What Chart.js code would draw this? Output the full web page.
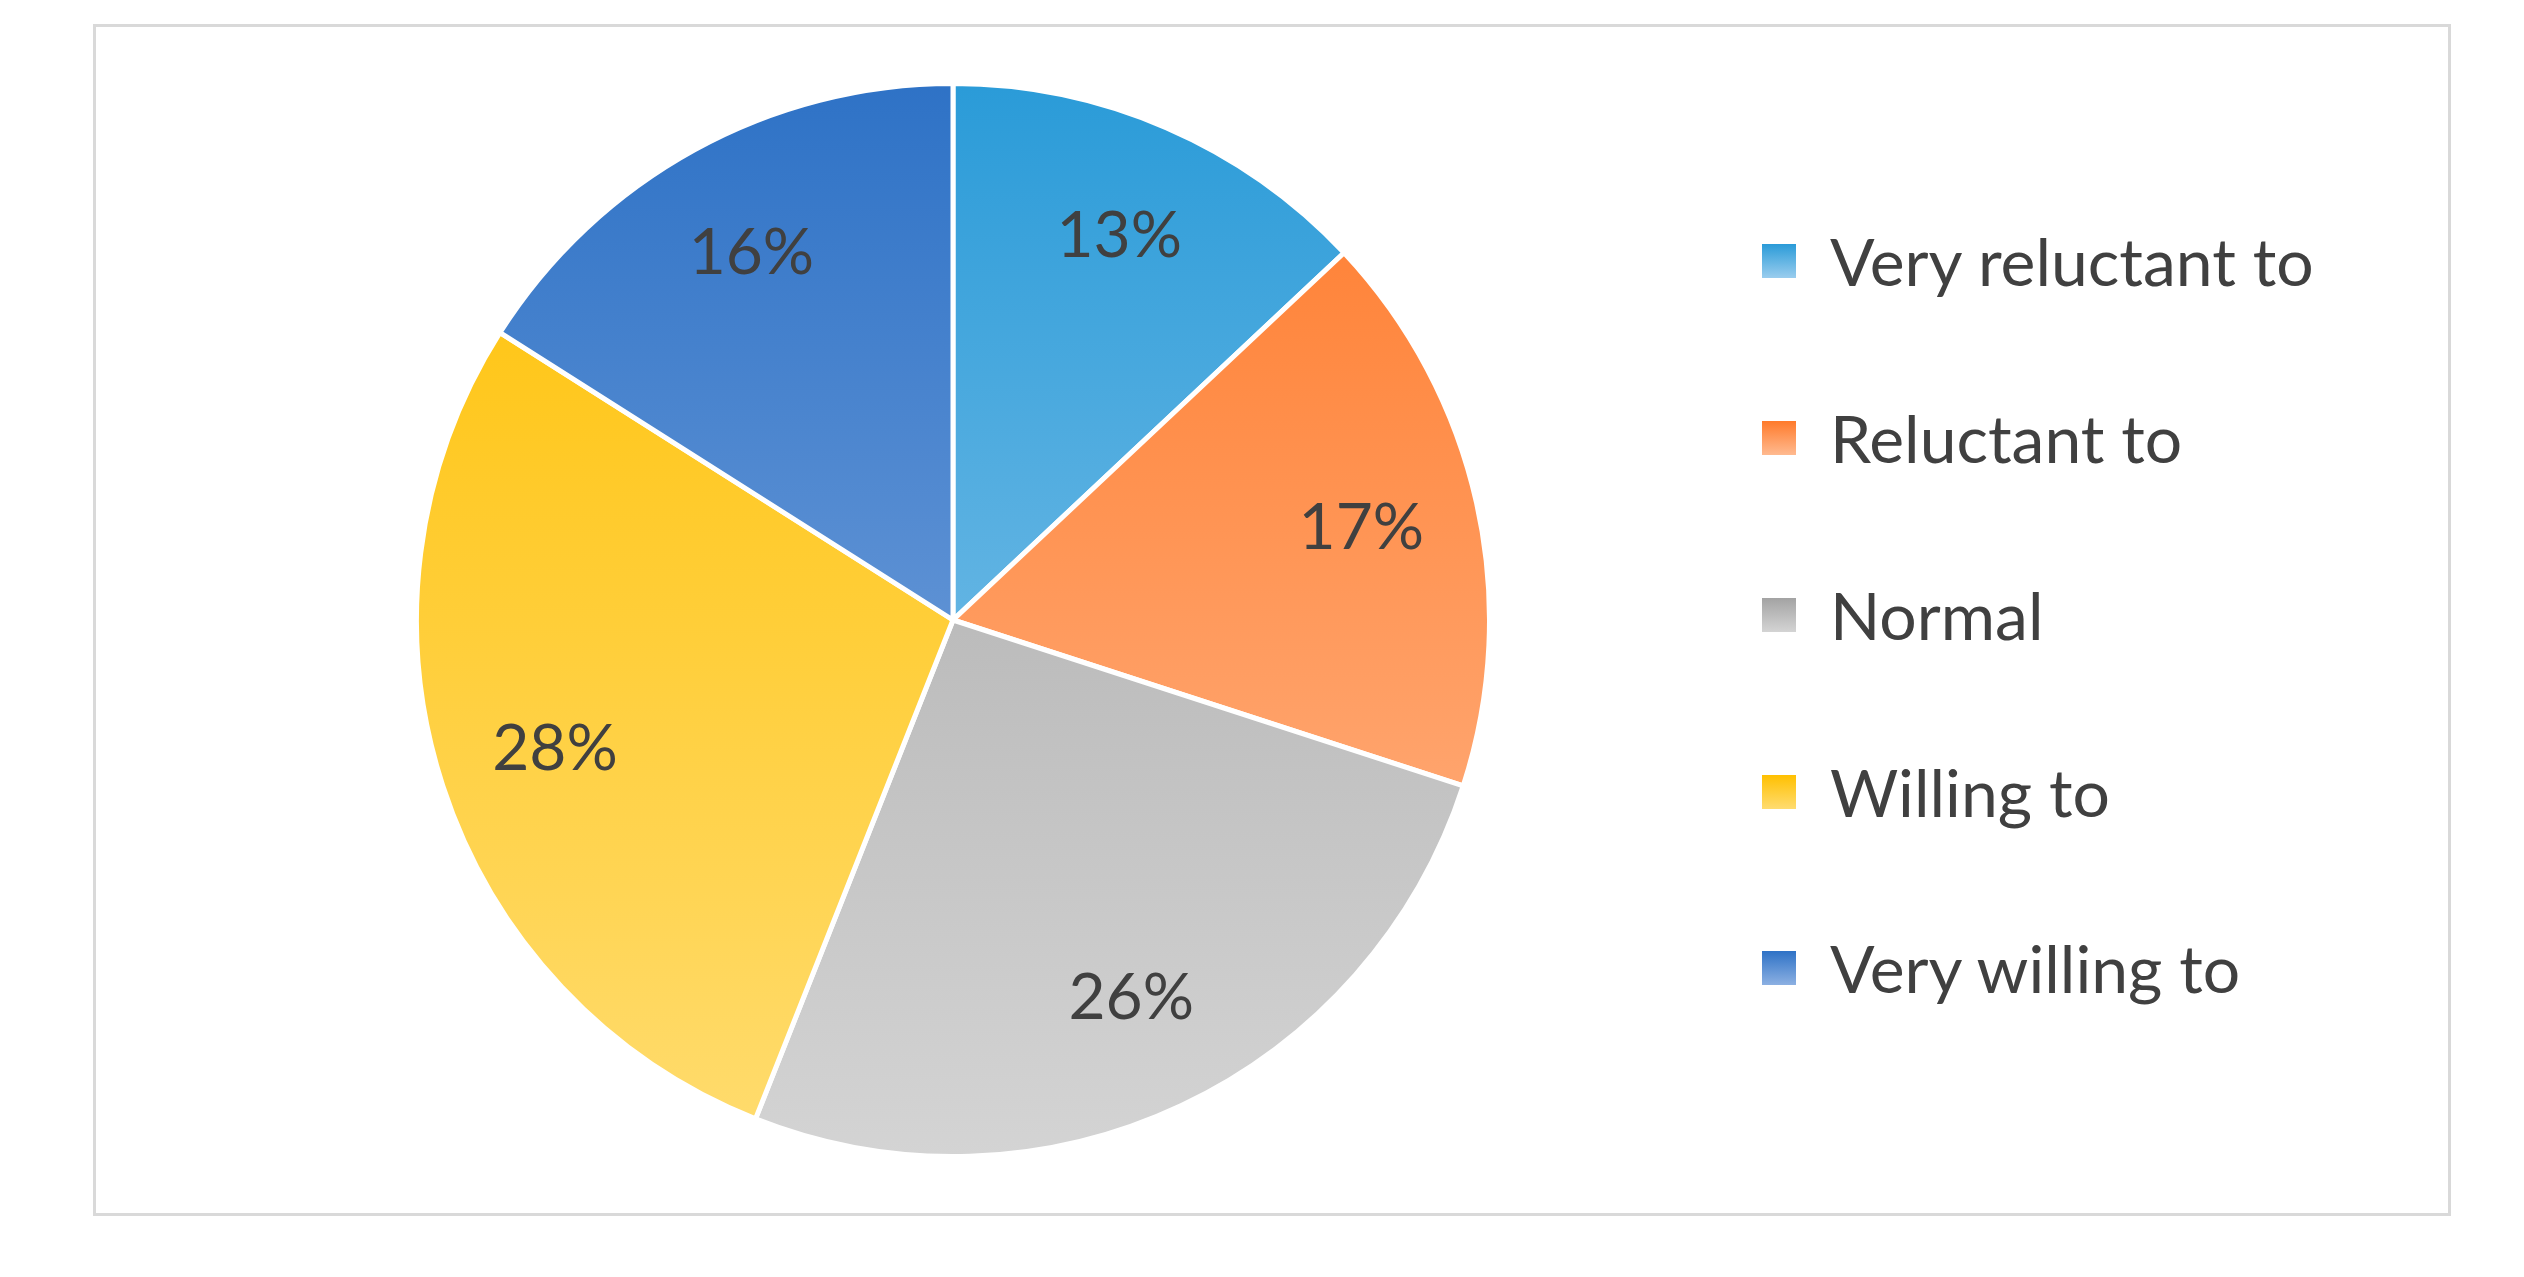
<!DOCTYPE html>
<html><head><meta charset="utf-8">
<script src="https://cdn.jsdelivr.net/npm/chart.js@4"></script>
<style>
body{margin:0;background:#fff;width:2524px;height:1277px;position:relative;overflow:hidden;font-family:Lato,"Open Sans",sans-serif;}
#frame{position:absolute;left:93px;top:24px;width:2358px;height:1192px;border:3px solid #d9d9d9;box-sizing:border-box;}
#wrap{position:absolute;left:414px;top:81px;width:1078px;height:1078px;}
#legend{position:absolute;left:1762px;top:0;}
.li{position:absolute;left:0;white-space:nowrap;font-size:66px;color:#404040;line-height:1;}
.sw{position:absolute;left:0;width:34px;height:34px;}
.li span{position:absolute;left:68px;top:-33px;}
</style></head><body>
<div id="frame"></div>
<div id="wrap"><canvas id="c"></canvas></div>
<div id="legend"></div>
<script>
const labels = ["Very reluctant to","Reluctant to","Normal","Willing to","Very willing to"];
const values = [13,17,26,28,16];
const topColors = ["#2A9BD8","#FF7A2A","#A3A3A3","#FFC000","#2E72C6"];
const bottomColors = ["#9ACDEE","#FFBA90","#D4D4D4","#FFDC70","#8CB0E2"];
const legendY = [261,438,615,792,968];

const lg = document.getElementById('legend');
labels.forEach((l,i)=>{
  const d=document.createElement('div');d.className='li';d.style.top=legendY[i]+'px';
  const s=document.createElement('div');s.className='sw';s.style.top='-17px';
  s.style.background='linear-gradient('+topColors[i]+','+bottomColors[i]+')';
  const t=document.createElement('span');t.textContent=l;
  d.appendChild(s);d.appendChild(t);lg.appendChild(d);
});

const labelPlugin={id:'pl',afterDatasetsDraw(chart){
  const ctx=chart.ctx;const meta=chart.getDatasetMeta(0);
  ctx.save();ctx.font='64px Lato, "Open Sans", sans-serif';ctx.fillStyle='#404040';
  ctx.textAlign='center';ctx.textBaseline='middle';
  meta.data.forEach((a,i)=>{
    const mid=(a.startAngle+a.endAngle)/2;const r=a.outerRadius*0.78;
    ctx.fillText(values[i]+'%',a.x+Math.cos(mid)*r,a.y+Math.sin(mid)*r);
  });ctx.restore();
}};

new Chart(document.getElementById('c'),{
  type:'pie',
  data:{labels:labels,datasets:[{data:values,borderColor:'#fff',borderWidth:5,
    backgroundColor:(c)=>{
      const ch=c.chart;const a=ch.chartArea;if(!a)return topColors[c.dataIndex];
      const g=ch.ctx.createLinearGradient(0,a.top,0,a.bottom);
      g.addColorStop(0,topColors[c.dataIndex]);g.addColorStop(1,bottomColors[c.dataIndex]);return g;
    }}]},
  options:{responsive:true,maintainAspectRatio:false,animation:false,
    plugins:{legend:{display:false},tooltip:{enabled:false}},layout:{padding:0}},
  plugins:[labelPlugin]
});
</script></body></html>
